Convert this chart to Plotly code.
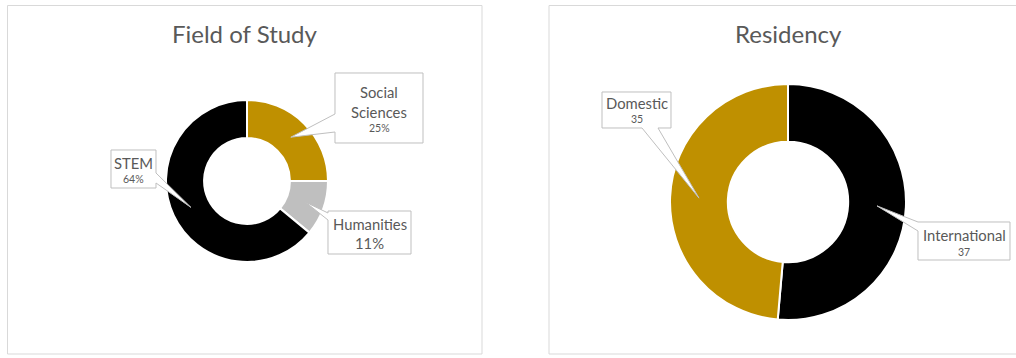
import math
import plotly.graph_objects as go

# ---------------- data ----------------
field_title = "Field of Study"
field_labels = ["Social Sciences", "Humanities", "STEM"]
field_values = [25, 11, 64]
field_colors = ["#BF9000", "#BFBFBF", "#000000"]

res_title = "Residency"
res_labels = ["International", "Domestic"]
res_values = [37, 35]
res_colors = ["#000000", "#BF9000"]

# ---------------- layout constants (page pixels) ----------------
OFF = 0                     # page body margin removed via post_script
W, H = 1016 - OFF, 358 - OFF
FONT = "Lato"
TXT = "#595959"
BORDER = "#D9D9D9"


def X(p):
    return (p - OFF) / W


def Y(p):
    return 1 - (p - OFF) / H


# donut geometry: center x, center y, outer radius, hole
LEFT = dict(cx=247, cy=181, r=81, hole=0.53)
RIGHT = dict(cx=788, cy=202, r=118, hole=0.51)

LBL = 14.8
SML = 10.5
field_boxes = {
    "Social Sciences": dict(box=(335, 73, 423, 143), side="left", base=(114, 132),
                            lines=[("Social", 92, LBL), ("Sciences", 112, LBL), ("{v}%", 128, SML)]),
    "Humanities": dict(box=(328, 211, 411, 254), side="left", base=(213, 220),
                       lines=[("Humanities", 224, LBL), ("{v}%", 243, LBL)]),
    "STEM": dict(box=(111, 150, 156, 188), side="right", base=(173, 183),
                 lines=[("STEM", 163, LBL), ("{v}%", 179, SML)]),
}
res_boxes = {
    "International": dict(box=(918, 222, 1010, 260), side="left", base=(222, 231),
                          lines=[("International", 235, LBL), ("{v}", 252, SML)]),
    "Domestic": dict(box=(602, 92, 671, 128), side="bottom", base=(642, 658),
                     lines=[("Domestic", 103, LBL), ("{v}", 119, SML)]),
}


def tip_points(values, g):
    total = sum(values)
    r = g["r"] * (1 + g["hole"]) / 2
    cum = 0
    pts = []
    for v in values:
        a = (cum + v / 2) / total * 2 * math.pi
        pts.append((g["cx"] + r * math.sin(a), g["cy"] - r * math.cos(a)))
        cum += v
    return pts


def callout_path(box, side, base, tip):
    x0, y0, x1, y1 = box
    a, b = base
    tx, ty = tip
    pts = [(x0, y0)]
    if side == "top":
        pts += [(a, y0), (tx, ty), (b, y0)]
    pts += [(x1, y0)]
    if side == "right":
        pts += [(x1, a), (tx, ty), (x1, b)]
    pts += [(x1, y1)]
    if side == "bottom":
        pts += [(b, y1), (tx, ty), (a, y1)]
    pts += [(x0, y1)]
    if side == "left":
        pts += [(x0, b), (tx, ty), (x0, a)]
    return "M " + " L ".join(f"{X(px):.5f},{Y(py):.5f}" for px, py in pts) + " Z"


fig = go.Figure()


def add_donut(labels, values, colors, g):
    fig.add_trace(go.Pie(
        labels=labels, values=values, hole=g["hole"], sort=False,
        direction="clockwise", rotation=0, textinfo="none", showlegend=False,
        marker=dict(colors=colors, line=dict(color="white", width=2)),
        domain=dict(x=[X(g["cx"] - g["r"]), X(g["cx"] + g["r"])],
                    y=[Y(g["cy"] + g["r"]), Y(g["cy"] - g["r"])]),
        hoverinfo="label+value+percent",
    ))


add_donut(field_labels, field_values, field_colors, LEFT)
add_donut(res_labels, res_values, res_colors, RIGHT)

shapes = []
annotations = []

# panel borders
shapes.append(dict(type="rect", xref="paper", yref="paper", x0=X(7.5), x1=X(482), y0=Y(354), y1=Y(5.5),
                   line=dict(color=BORDER, width=1), fillcolor="rgba(0,0,0,0)", layer="below"))
shapes.append(dict(type="rect", xref="paper", yref="paper", x0=X(549), x1=X(1030), y0=Y(354), y1=Y(5.5),
                   line=dict(color=BORDER, width=1), fillcolor="rgba(0,0,0,0)", layer="below"))

# titles
for t, cx in [(field_title, 244.5), (res_title, 788)]:
    annotations.append(dict(text=t, x=X(cx), y=Y(33), xref="paper", yref="paper", showarrow=False,
                            xanchor="center", yanchor="middle",
                            font=dict(family=FONT, size=24, color=TXT)))


def add_callouts(labels, values, g, boxes):
    tips = tip_points(values, g)
    for lab, v, tip in zip(labels, values, tips):
        spec = boxes[lab]
        shapes.append(dict(type="path", xref="paper", yref="paper",
                           path=callout_path(spec["box"], spec["side"], spec["base"], tip),
                           fillcolor="white", line=dict(color="#BFBFBF", width=1), layer="above"))
        bx = (spec["box"][0] + spec["box"][2]) / 2
        for txt, yy, sz in spec["lines"]:
            annotations.append(dict(text=txt.format(v=v), x=X(bx), y=Y(yy), xref="paper", yref="paper",
                                    showarrow=False, xanchor="center", yanchor="middle",
                                    font=dict(family=FONT, size=sz, color=TXT)))


add_callouts(field_labels, field_values, LEFT, field_boxes)
add_callouts(res_labels, res_values, RIGHT, res_boxes)

fig.update_layout(
    width=W, height=H, margin=dict(l=0, r=0, t=0, b=0),
    paper_bgcolor="white", plot_bgcolor="white",
    shapes=shapes, annotations=annotations,
)

fig.write_html("out.html", config={"displayModeBar": False},
               post_script="document.body.style.margin='0';document.body.style.overflow='hidden';")
